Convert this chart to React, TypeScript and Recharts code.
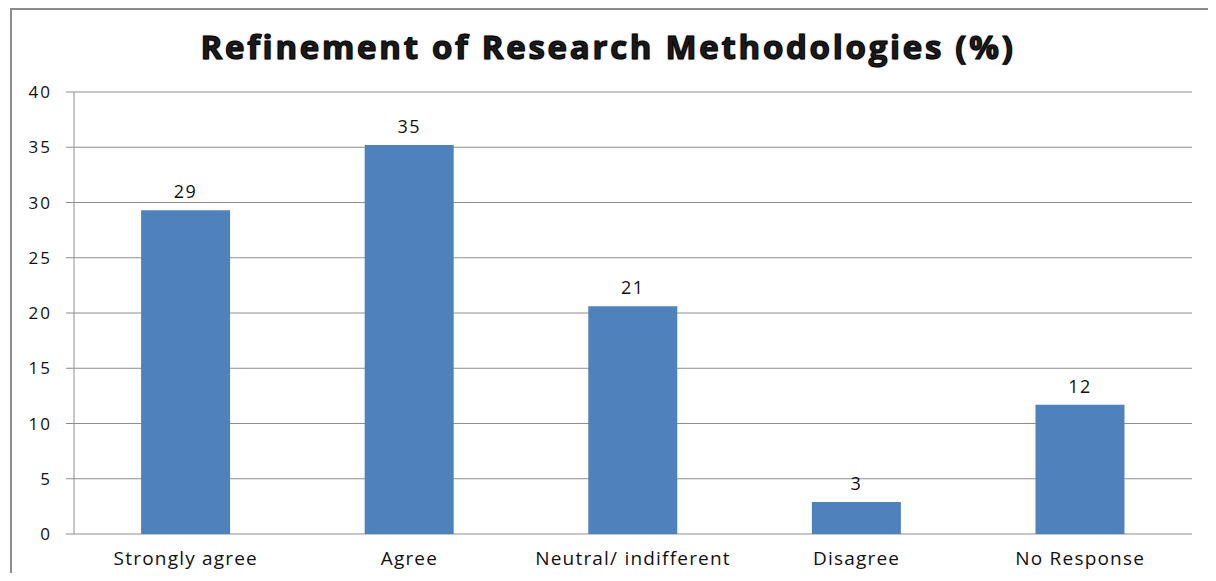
import { BarChart, Bar, XAxis, YAxis, CartesianGrid, LabelList } from 'recharts';

// categories and values
const categories = ['Strongly agree', 'Agree', 'Neutral/ indifferent', 'Disagree', 'No Response'];
const percentValues = [29.3, 35.2, 20.6, 2.9, 11.7];
const yTicks = [0, 5, 10, 15, 20, 25, 30, 35, 40];
const boundaryTicks = [0, 1, 2, 3, 4, 5];

const data = categories.map((name, i) => ({ name, value: percentValues[i], pos: i + 0.5 }));

const FONT = '"Open Sans", "Noto Sans", sans-serif';

export default function App() {
  return (
    <div style={{ position: 'relative', margin: -8, width: 1216, height: 581, background: '#fff', overflow: 'hidden', fontFamily: FONT }}>
      {/* outer frame, cut by the picture's right and bottom edges */}
      <div style={{ position: 'absolute', left: 10, top: 8, width: 1300, height: 700, borderLeft: '2px solid #8c8c8c', borderTop: '2px solid #8c8c8c' }} />
      <div
        style={{
          position: 'absolute',
          left: 0,
          width: 1216,
          top: 24,
          textAlign: 'center',
          fontSize: 33,
          fontWeight: 700,
          color: '#1a1a1a',
          WebkitTextStroke: '1px #000',
          textShadow: '0 0 2px #666',
          letterSpacing: 2.7,
        }}
      >
        Refinement of Research Methodologies (%)
      </div>
      <div style={{ position: 'absolute', left: 0, top: 0 }}>
        <BarChart
          width={1216}
          height={581}
          data={data}
          margin={{ top: 92, right: 24, left: 14, bottom: 7 }}
          barCategoryGap="30%"
        >
          <CartesianGrid vertical={false} stroke="#8e8e8e" />
          <XAxis
            xAxisId="edges"
            type="number"
            dataKey="pos"
            domain={[0, 5]}
            ticks={boundaryTicks}
            tick={false}
            tickLine={{ stroke: '#8e8e8e' }}
            tickSize={7}
            axisLine={{ stroke: '#8e8e8e' }}
            height={0}
            allowDataOverflow
          />
          <XAxis
            dataKey="name"
            tickLine={false}
            axisLine={false}
            interval={0}
            height={40}
            tick={{ fill: '#111', fontSize: 19, fontFamily: FONT, dy: 10, letterSpacing: 1.2 }}
          />
          <YAxis
            domain={[0, 40]}
            ticks={yTicks}
            width={60}
            tickSize={8}
            tickLine={{ stroke: '#8e8e8e' }}
            axisLine={{ stroke: '#8e8e8e' }}
            tick={{ fill: '#111', fontSize: 17, fontFamily: FONT, dx: -12, letterSpacing: 2 }}
          />
          <Bar dataKey="value" fill="#4F81BD" isAnimationActive={false}>
            <LabelList
              dataKey="value"
              position="top"
              offset={12}
              formatter={(v: number) => Math.round(v)}
              style={{ fill: '#111', fontSize: 18, fontFamily: FONT, letterSpacing: 1.5 }}
            />
          </Bar>
        </BarChart>
      </div>
    </div>
  );
}
